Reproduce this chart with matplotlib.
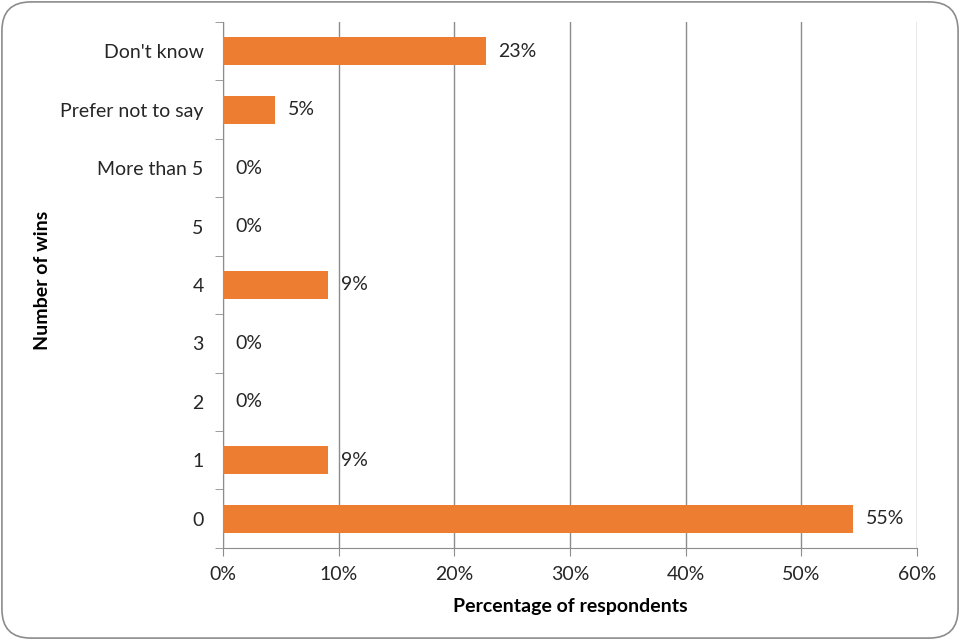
import matplotlib.pyplot as plt
from matplotlib.patches import FancyBboxPatch
from matplotlib.ticker import FuncFormatter, FixedLocator
import numpy as np

categories = ["0", "1", "2", "3", "4", "5", "More than 5", "Prefer not to say", "Don't know"]
values = [54.5, 9.1, 0, 0, 9.1, 0, 0, 4.5, 22.7]
labels = ["55%", "9%", "0%", "0%", "9%", "0%", "0%", "5%", "23%"]

ORANGE = "#ED7D31"
GRID = "#8C8C8C"
TEXT = "#262626"

plt.rcParams.update({
    "font.family": ["Lato", "DejaVu Sans"],
    "font.size": 14,
})

fig = plt.figure(figsize=(9.6, 6.4), dpi=100)
ax = fig.add_axes([0.2323, 0.144, 0.7229, 0.8216])

y = np.arange(len(categories))
ax.barh(y, values, height=0.48, color=ORANGE, zorder=3)
for yi, v, lab in zip(y, values, labels):
    ax.annotate(lab, (v, yi), xytext=(9, 0), textcoords="offset points",
                va="center", ha="left", fontsize=14, color=TEXT)

ax.set_xlim(0, 60)
ax.set_ylim(-0.5, len(categories) - 0.5)
ax.set_xticks(np.arange(0, 61, 10))
ax.xaxis.set_major_formatter(FuncFormatter(lambda x, _: f"{x:.0f}%"))
ax.set_yticks(y)
ax.set_yticklabels(categories)
ax.yaxis.set_minor_locator(FixedLocator(np.arange(-0.5, len(categories), 1)))
ax.tick_params(axis="y", which="major", length=0, pad=14, labelsize=14, labelcolor=TEXT)
ax.tick_params(axis="y", which="minor", length=6, color=GRID)
ax.tick_params(axis="x", length=6, color=GRID, pad=7, labelsize=14, labelcolor=TEXT)

ax.grid(axis="x", color=GRID, linewidth=1, zorder=0)
for s in ["top", "right"]:
    ax.spines[s].set_visible(False)
for s in ["left", "bottom"]:
    ax.spines[s].set_color(GRID)

ax.set_xlabel("Percentage of respondents", fontweight="bold", fontsize=14, labelpad=11)
fig.text(42 / 960, 1 - 280 / 640, "Number of wins", rotation=90, fontweight="bold",
         fontsize=14, ha="center", va="center")

border = FancyBboxPatch((0.002, 0.003), 0.996, 0.994, boxstyle="round,pad=0,rounding_size=0.03",
                        transform=fig.transFigure, fill=False, edgecolor="#8C8C8C",
                        linewidth=1.2, mutation_aspect=1.5)
fig.patches.append(border)

fig.savefig("out.png", dpi=100)
